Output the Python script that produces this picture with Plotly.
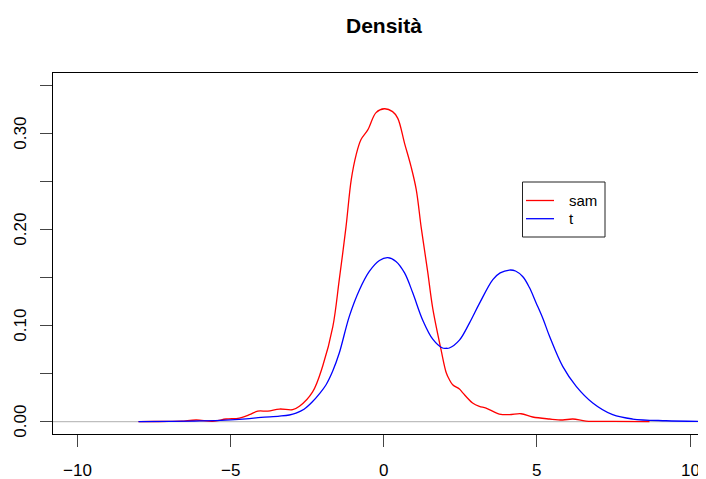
import plotly.graph_objects as go

# ---- data ----
sam_x = [-8.0, -7.5, -7.0, -6.6, -6.12, -5.58, -5.14, -4.71, -4.38, -4.11, -3.78, -3.40, -2.97,
         -2.75, -2.32, -1.99, -1.66, -1.45, -1.23, -1.06, -0.90, -0.74, -0.52, -0.25, 0.02, 0.29,
         0.46, 0.68, 0.89, 1.06, 1.22, 1.33, 1.44, 1.60, 1.87, 2.04, 2.14, 2.25, 2.47, 2.58, 2.90,
         3.12, 3.34, 3.77, 4.10, 4.48, 4.86, 5.41, 5.84, 6.17, 6.60, 7.5, 8.67]
sam_y = [0.0, 0.0002, 0.0003, 0.0005, 0.0018, 0.0005, 0.0028, 0.0038, 0.0073, 0.011, 0.011, 0.0132,
         0.0125, 0.016, 0.031, 0.058, 0.099, 0.148, 0.203, 0.252, 0.278, 0.294, 0.304, 0.322, 0.326,
         0.323, 0.316, 0.290, 0.266, 0.242, 0.203, 0.179, 0.155, 0.118, 0.075, 0.051, 0.044, 0.0385,
         0.034, 0.030, 0.0195, 0.016, 0.0142, 0.008, 0.0073, 0.0083, 0.0049, 0.0028, 0.0018, 0.0028,
         0.0007, 0.0003, 0.0001]

t_x = [-8.0, -7.0, -6.0, -5.0, -4.49, -4.0, -3.40, -3.08, -2.86, -2.6, -2.32, -2.1, -1.88, -1.66,
       -1.45, -1.12, -0.79, -0.47, -0.14, 0.13, 0.40, 0.68, 0.95, 1.27, 1.60, 1.92, 2.04, 2.14,
       2.47, 2.80, 3.12, 3.56, 3.80, 4.10, 4.30, 4.54, 4.75, 4.97, 5.20, 5.41, 5.84, 6.28, 6.82,
       7.47, 8.12, 9.21, 10.5, 11.0]
t_y = [0.0001, 0.0003, 0.0008, 0.002, 0.003, 0.0045, 0.0058, 0.007, 0.009, 0.013, 0.021, 0.029,
       0.0385, 0.053, 0.0715, 0.110, 0.1375, 0.1566, 0.168, 0.171, 0.167, 0.155, 0.134, 0.106,
       0.086, 0.0768, 0.0765, 0.0768, 0.085, 0.103, 0.123, 0.148, 0.155, 0.158, 0.157, 0.151,
       0.140, 0.124, 0.107, 0.089, 0.0576, 0.0368, 0.0195, 0.0073, 0.0028, 0.001, 0.0003, 0.0002]

x_ticks = [-10, -5, 0, 5, 10]
x_tick_labels = ["\u221210", "\u22125", "0", "5", "10"]
y_ticks = [0.0, 0.05, 0.10, 0.15, 0.20, 0.25, 0.30, 0.35]
y_tick_labels = ["0.00", "", "0.10", "", "0.20", "", "0.30", ""]

series_names = ["sam", "t"]
series_colors = ["#FF0000", "#0000FF"]
title_text = "Densità"

# ---- layout geometry (page body has an 8px margin; target coords are window pixels) ----
OFF = 8
W, H = 706 - OFF, 479 - OFF
ML, MR, MT, MB = 53 - OFF, 0, 73 - OFF, 45
PW, PH = W - ML - MR, H - MT - MB
FONT = "Liberation Sans, Arial, Helvetica, sans-serif"


def px(xp):
    return (xp - OFF - ML) / PW


def py(yp):
    return (H - MB - (yp - OFF)) / PH


fig = go.Figure()
for xs, ys, name, col in [(sam_x, sam_y, series_names[0], series_colors[0]),
                          (t_x, t_y, series_names[1], series_colors[1])]:
    fig.add_trace(go.Scatter(x=xs, y=ys, mode="lines", name=name,
                             line=dict(color=col, width=1.3, shape="spline", smoothing=1.0),
                             showlegend=False, hoverinfo="skip"))

shapes = [
    dict(type="line", xref="paper", yref="y", x0=0, x1=1, y0=0, y1=0,
         line=dict(color="#BEBEBE", width=1.2), layer="below"),
    dict(type="rect", xref="paper", yref="paper", x0=px(522.5), x1=px(605), y0=py(182), y1=py(237),
         line=dict(color="#222222", width=1), fillcolor="white", layer="above"),
    dict(type="line", xref="paper", yref="paper", x0=px(526), x1=px(554), y0=py(200.5), y1=py(200.5),
         line=dict(color=series_colors[0], width=1.3)),
    dict(type="line", xref="paper", yref="paper", x0=px(526), x1=px(554), y0=py(218.7), y1=py(218.7),
         line=dict(color=series_colors[1], width=1.3)),
]

annotations = [
    dict(text="<b>%s</b>" % title_text, xref="paper", yref="paper", x=px(384.3), y=py(25.5),
         xanchor="center", yanchor="middle", showarrow=False,
         font=dict(family=FONT, size=21, color="black")),
    dict(text=series_names[0], xref="paper", yref="paper", x=px(567), y=py(200.5),
         xanchor="left", yanchor="middle", showarrow=False,
         font=dict(family=FONT, size=15, color="black")),
    dict(text=series_names[1], xref="paper", yref="paper", x=px(567), y=py(218.7),
         xanchor="left", yanchor="middle", showarrow=False,
         font=dict(family=FONT, size=15, color="black")),
]
# tick labels (R style placement)
for v, lab in zip(x_ticks, x_tick_labels):
    annotations.append(dict(text=lab, xref="x", yref="paper", x=v, y=py(471),
                            xanchor="center", yanchor="middle", showarrow=False,
                            font=dict(family=FONT, size=17, color="black")))
for v, lab in zip(y_ticks, y_tick_labels):
    if lab:
        annotations.append(dict(text=lab, xref="paper", yref="y", x=px(21), y=v,
                                xanchor="center", yanchor="middle", showarrow=False,
                                textangle=-90,
                                font=dict(family=FONT, size=17, color="black")))

fig.update_layout(
    width=W, height=H,
    margin=dict(l=ML, r=MR, t=MT, b=MB, pad=0),
    paper_bgcolor="white", plot_bgcolor="white",
    font=dict(family=FONT, color="black"),
    shapes=shapes, annotations=annotations, showlegend=False,
    xaxis=dict(range=[-10.79, -10.79 + PW / 30.65], tickvals=x_ticks, showticklabels=False,
               ticks="outside", ticklen=12, tickcolor="#444444", tickwidth=1,
               showline=True, linecolor="black", linewidth=1, mirror=True,
               showgrid=False, zeroline=False, fixedrange=True),
    yaxis=dict(range=[-0.0128, -0.0128 + PH / 960.0], tickvals=y_ticks, showticklabels=False,
               ticks="outside", ticklen=12, tickcolor="#444444", tickwidth=1,
               showline=True, linecolor="black", linewidth=1, mirror=False,
               showgrid=False, zeroline=False, fixedrange=True),
)

fig.write_html("out.html")
